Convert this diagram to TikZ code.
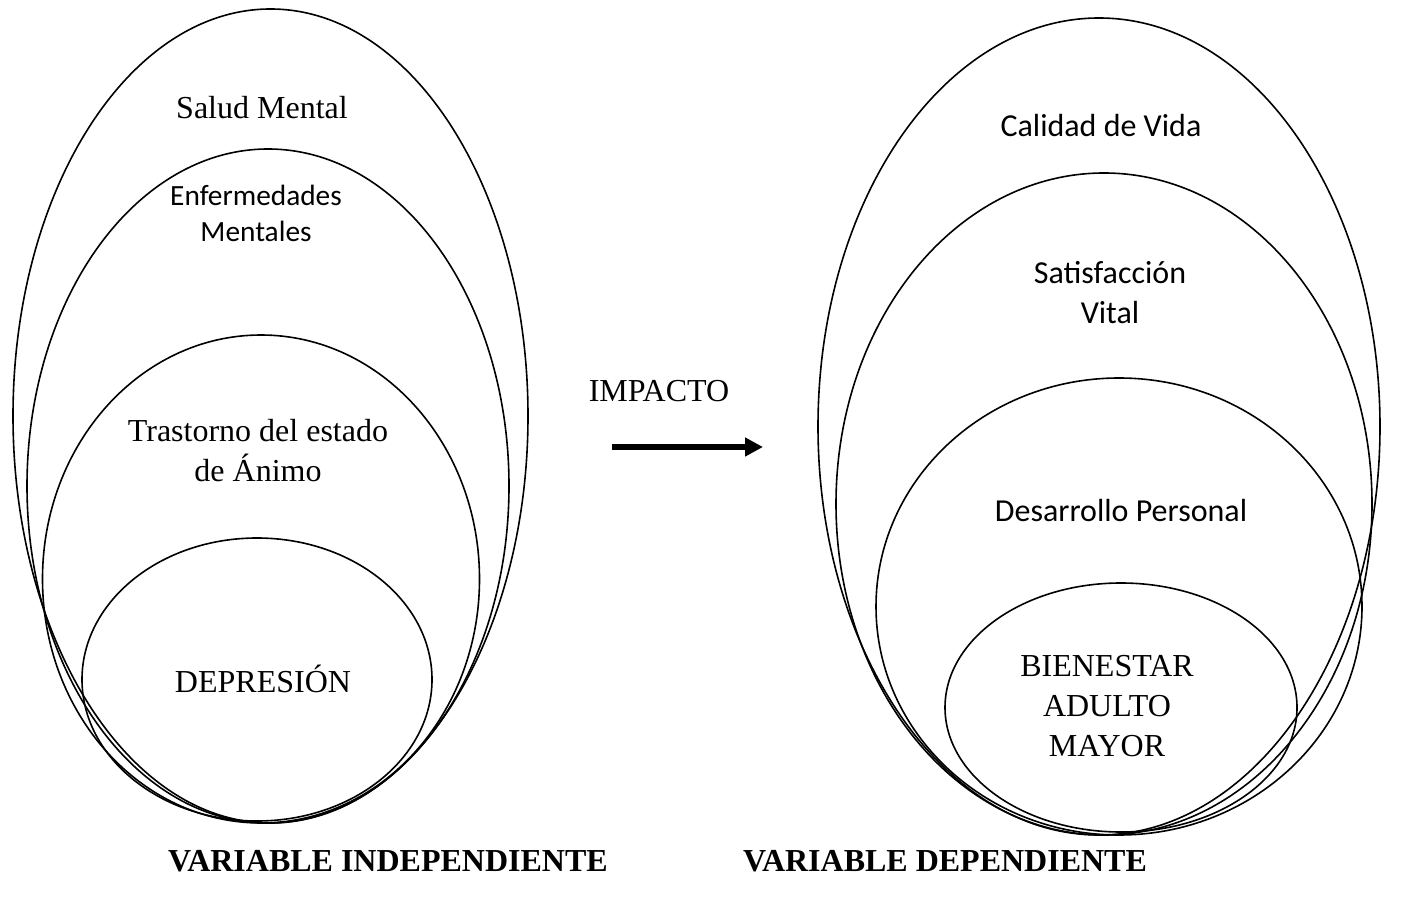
\documentclass[tikz,border=0pt]{standalone}
\usepackage{fontspec}
\setmainfont{Liberation Serif}
\newfontfamily\calibri{Carlito}
\usepackage{tikz}
\usetikzlibrary{arrows.meta, positioning, shapes.geometric}

\tikzset{
  ring/.style={draw=black, line width=1.2pt, ellipse, inner sep=0pt},
  serifLabel/.style={align=center, font=\fontsize{24}{30}\selectfont},
  sansLabel/.style={align=center, font=\calibri\fontsize{22}{27}\selectfont},
  sansLabelBig/.style={align=center, font=\calibri\fontsize{24}{30}\selectfont},
  varLabel/.style={font=\bfseries\fontsize{24}{29}\selectfont}
}

\begin{document}
\begin{tikzpicture}[x=0.75pt, y=-0.75pt]
  \useasboundingbox (0,0) rectangle (1403,902);

  % variable independiente
  \node[ring, minimum width=386.25pt, minimum height=610.5pt] (saludMental) at (270.5,416) {};
  \node[ring, minimum width=361.5pt, minimum height=505.5pt] (enfermedades) at (268,486) {};
  \node[ring, minimum width=327.75pt, minimum height=366pt] (trastorno) at (261,579) {};
  \node[ring, minimum width=262.5pt, minimum height=212.25pt] (depresion) at (257,679.5) {};

  \node[serifLabel] (saludTxt) at (262,108) {Salud Mental};
  \node[sansLabel] (enfermedadesTxt) at (256,213) {Enfermedades\\Mentales};
  \node[serifLabel] (trastornoTxt) at (258,451) {Trastorno del estado\\de Ánimo};
  \node[serifLabel] (depresionTxt) at (263,679) {DEPRESIÓN};

  % impacto
  \node[serifLabel] (impacto) at (659,391) {IMPACTO};
  \coordinate (arrowStart) at (612,447);
  \coordinate (arrowEnd) at (763,447);
  \draw[line width=4.5pt, -{Triangle[length=13.5pt, width=13.5pt]}] (arrowStart) -- (arrowEnd);

  % variable dependiente
  \node[ring, minimum width=421.5pt, minimum height=612.75pt] (calidadVida) at (1099,426.5) {};
  \node[ring, minimum width=402pt, minimum height=496.5pt] (satisfaccion) at (1104,504) {};
  \node[ring, minimum width=364.5pt, minimum height=342.75pt] (desarrollo) at (1119,606.5) {};
  \node[ring, minimum width=264pt, minimum height=186.75pt] (bienestar) at (1121,707.5) {};

  \node[sansLabelBig] (calidadTxt) at (1101,126) {Calidad de Vida};
  \node[sansLabelBig] (satisfaccionTxt) at (1110,293) {Satisfacción\\Vital};
  \node[sansLabelBig] (desarrolloTxt) at (1121,511) {Desarrollo Personal};
  \node[serifLabel] (bienestarTxt) at (1107,706) {BIENESTAR\\ADULTO\\MAYOR};

  \node[varLabel] (varIndep) at (388,861) {VARIABLE INDEPENDIENTE};
  \node[varLabel] (varDep) at (945,861) {VARIABLE DEPENDIENTE};
\end{tikzpicture}
\end{document}
